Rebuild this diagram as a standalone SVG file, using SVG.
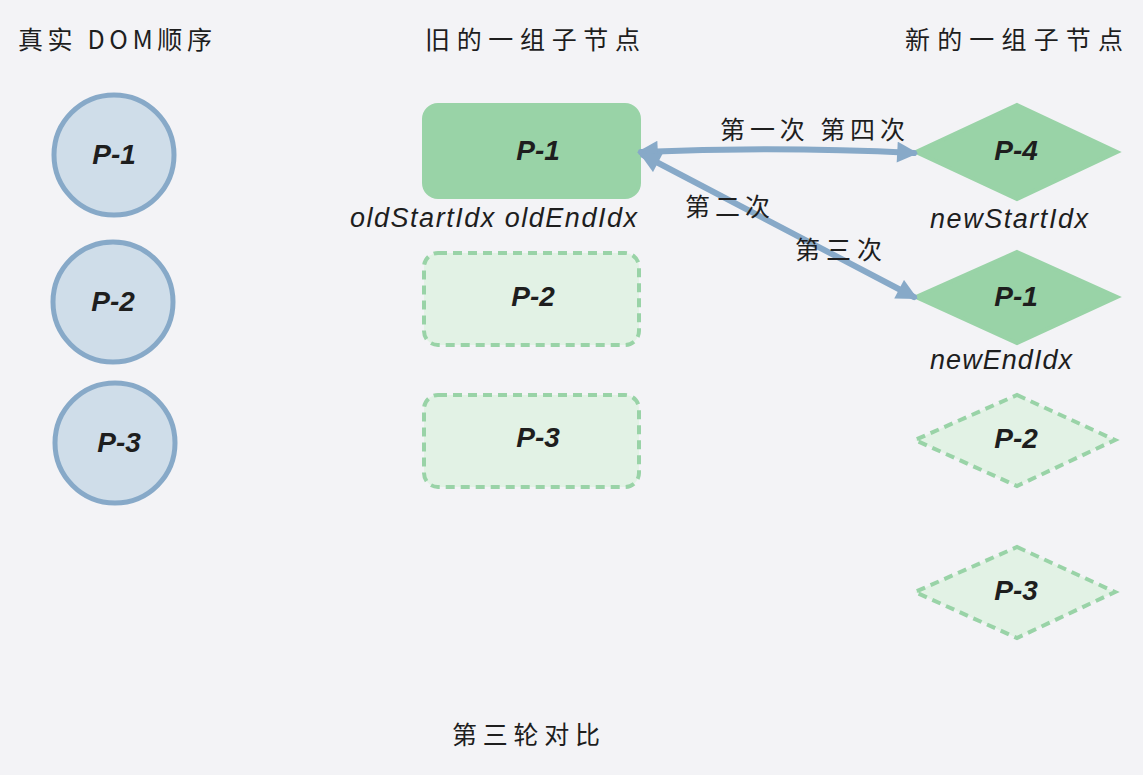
<svg xmlns="http://www.w3.org/2000/svg" width="1143" height="775" viewBox="0 0 1143 775">
<defs>
<style>
.bg{fill:#f3f3f6}
.t{font-family:"Noto Sans CJK SC","Liberation Sans",sans-serif;font-size:25px;fill:#1e1e1e}
.lbl{font-family:"Liberation Sans","Noto Sans CJK SC",sans-serif;font-size:28px;font-weight:bold;font-style:italic;fill:#1e1e1e;text-anchor:middle}
.idx{font-family:"Liberation Sans",sans-serif;font-size:27px;font-style:italic;fill:#1e1e1e}
.circ{fill:#cfdde9;stroke:#87a9c8;stroke-width:5}
.solid{fill:#99d3a7;stroke:#99d3a7;stroke-width:4}
.dash{fill:#e2f2e5;stroke:#99d3a7;stroke-width:4;stroke-dasharray:9 6}
.conn{fill:none;stroke:#87a9c8;stroke-width:6;stroke-linecap:round}
</style>
<marker id="ah" viewBox="0 0 10 10" refX="8" refY="5" markerWidth="4" markerHeight="3.5" orient="auto-start-reverse" markerUnits="strokeWidth">
<path d="M0,0 L10,5 L0,10 z" fill="#87a9c8"/>
</marker>
</defs>
<rect class="bg" x="0" y="0" width="1143" height="775"/>

<text class="t" x="18" y="49" textLength="194" lengthAdjust="spacing">真实 DOM顺序</text>
<text class="t" x="425" y="49" textLength="215" lengthAdjust="spacing">旧的一组子节点</text>
<text class="t" x="905" y="49" textLength="218" lengthAdjust="spacing">新的一组子节点</text>
<text class="t" x="452" y="744" textLength="148" lengthAdjust="spacing">第三轮对比</text>

<g id="dom-p1"><circle class="circ" cx="114" cy="155" r="60"/><text class="lbl" x="114" y="164" font-weight="normal">P-1</text></g>
<g id="dom-p2"><circle class="circ" cx="113" cy="302" r="60"/><text class="lbl" x="113" y="311" font-weight="normal">P-2</text></g>
<g id="dom-p3"><circle class="circ" cx="115" cy="443" r="60"/><text class="lbl" x="119" y="452" font-weight="normal">P-3</text></g>

<g id="old-p1"><rect class="solid" x="424" y="105" width="215" height="92" rx="14"/><text class="lbl" x="538" y="160">P-1</text></g>
<g id="old-p2"><rect class="dash" x="424" y="253" width="215" height="92" rx="14"/><text class="lbl" x="533" y="306">P-2</text></g>
<g id="old-p3"><rect class="dash" x="424" y="395" width="215" height="92" rx="14"/><text class="lbl" x="538" y="447">P-3</text></g>

<text class="idx" x="350" y="227" textLength="287" lengthAdjust="spacing">oldStartIdx  oldEndIdx</text>

<g id="new-p4"><polygon class="solid" points="1017,105 1117,152 1017,199 916,152"/><text class="lbl" x="1016" y="160">P-4</text></g>
<g id="new-p1"><polygon class="solid" points="1017,252 1117,297 1017,343 916,297"/><text class="lbl" x="1016" y="306">P-1</text></g>
<g id="new-p2"><polygon class="dash" points="1017,395 1115,440 1017,486 915,440"/><text class="lbl" x="1016" y="448">P-2</text></g>
<g id="new-p3"><polygon class="dash" points="1017,547 1115,592 1017,638 915,592"/><text class="lbl" x="1016" y="600">P-3</text></g>

<text class="idx" x="930" y="228" textLength="158" lengthAdjust="spacing">newStartIdx</text>
<text class="idx" x="930" y="369" textLength="142" lengthAdjust="spacing">newEndIdx</text>

<g id="connectors">
<path class="conn" d="M641,152 Q778,146 914,153" marker-start="url(#ah)" marker-end="url(#ah)"/>
<path class="conn" d="M643,155 L914,297" marker-start="url(#ah)" marker-end="url(#ah)"/>
<text class="t" x="720" y="139" textLength="185" lengthAdjust="spacing">第一次 第四次</text>
<text class="t" x="685" y="216" textLength="85" lengthAdjust="spacing">第二次</text>
<text class="t" x="795" y="259" textLength="87" lengthAdjust="spacing">第三次</text>
</g>
</svg>
